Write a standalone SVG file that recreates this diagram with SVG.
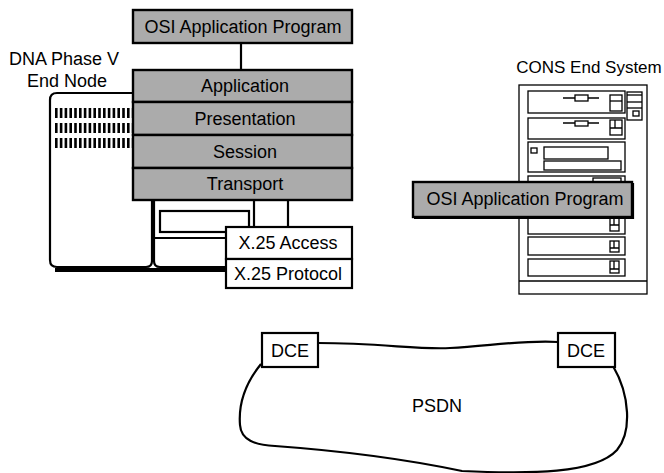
<svg xmlns="http://www.w3.org/2000/svg" width="664" height="473" viewBox="0 0 664 473">
  <style>
    text { font-family: "Liberation Sans", Arial, Helvetica, sans-serif; font-size: 18px; fill: #000; }
    .c { text-anchor: middle; }
    .layer { fill: #ababab; stroke: #000; stroke-width: 2.4; }
    .box { fill: #fff; stroke: #000; stroke-width: 2.2; }
    .line { fill: none; stroke: #000; stroke-width: 2.2; }
    .thin { fill: #fff; stroke: #000; stroke-width: 1.3; }
    .thinline { fill: none; stroke: #000; stroke-width: 1.3; }
    .vent { stroke: #000; stroke-width: 10; stroke-dasharray: 2.6 2.2; }
  </style>

  <!-- DNA Phase V end node: workstation body -->
  <g id="dna-end-node">
    <text class="c" x="64" y="65">DNA Phase V</text>
    <text class="c" x="67" y="87">End Node</text>
    <!-- tower section -->
    <path class="line" d="M140,93 H57 Q50,93 50,100 V260 Q50,267 57,267 H146 Q152,267 152,261 V200" />
    <!-- desktop section under the stack -->
    <path class="line" d="M154,200 V261 Q154,267 160,267 H226" />
    <line x1="55" y1="270" x2="226" y2="270" stroke="#000" stroke-width="4" />
    <!-- vents -->
    <line class="vent" x1="55" y1="113" x2="133" y2="113" />
    <line class="vent" x1="55" y1="128" x2="133" y2="128" />
    <line class="vent" x1="55" y1="143" x2="133" y2="143" />
    <!-- floppy slot and panel line -->
    <rect class="line" x="160" y="211" width="89" height="21" />
    <line class="line" x1="154" y1="238" x2="226" y2="238" />
  </g>

  <!-- OSI protocol stack -->
  <g id="osi-app-top">
    <rect class="layer" x="133" y="10" width="219" height="33" />
    <text class="c" x="243" y="33">OSI Application Program</text>
  </g>
  <g id="stack">
    <rect class="layer" x="133" y="70" width="219" height="32" />
    <rect class="layer" x="133" y="102" width="219" height="33" />
    <rect class="layer" x="133" y="135" width="219" height="33" />
    <rect class="layer" x="133" y="168" width="219" height="32" />
    <text class="c" x="245" y="92">Application</text>
    <text class="c" x="245" y="125">Presentation</text>
    <text class="c" x="245" y="158">Session</text>
    <text class="c" x="245" y="190">Transport</text>
  </g>
  <g id="x25-access">
    <rect class="box" x="226" y="227" width="126" height="32" />
    <text class="c" x="288" y="249">X.25 Access</text>
  </g>
  <g id="x25-protocol">
    <rect class="box" x="226" y="259" width="126" height="29" />
    <text class="c" x="288" y="280">X.25 Protocol</text>
  </g>

  <!-- CONS end system cabinet -->
  <g id="cons-end-system">
    <text class="c" x="589" y="73" style="font-size:17px">CONS End System</text>
    <rect class="thin" x="519" y="85" width="128" height="209" />
    <line class="thinline" x1="519" y1="281" x2="647" y2="281" />
    <!-- drive 1 -->
    <rect class="thin" x="528" y="91" width="97" height="22" />
    <line class="thinline" x1="563" y1="98" x2="599" y2="98" />
    <rect class="thin" x="575" y="95" width="13" height="6" />
    <rect class="thin" x="610" y="95" width="12" height="16" />
    <line class="thinline" x1="610" y1="101" x2="622" y2="101" />
    <!-- control panel -->
    <rect class="thin" x="627" y="92" width="15" height="28" />
    <line class="thinline" x1="627" y1="95" x2="642" y2="95" />
    <line class="thinline" x1="627" y1="102" x2="642" y2="102" />
    <line class="thinline" x1="627" y1="108" x2="642" y2="108" />
    <rect class="thin" x="633" y="111" width="6" height="5" />
    <!-- drive 2 -->
    <rect class="thin" x="528" y="118" width="97" height="21" />
    <line class="thinline" x1="563" y1="123" x2="599" y2="123" />
    <rect class="thin" x="575" y="121" width="13" height="5" />
    <rect class="thin" x="610" y="120" width="12" height="15" />
    <path class="thinline" d="M615,120 V128 M610,128 H622" />
    <!-- drive 3 -->
    <rect class="thin" x="528" y="142" width="97" height="30" />
    <rect class="thin" x="531" y="148" width="6" height="5" />
    <rect class="thin" x="544" y="147" width="64" height="12" />
    <rect class="thin" x="544" y="161" width="77" height="9" />
    <!-- drive 4 -->
    <rect class="thin" x="528" y="176" width="97" height="58" />
    <rect class="thin" x="593" y="178" width="28" height="10" />
    <rect class="thin" x="610" y="217" width="9" height="14" />
    <path class="thinline" d="M614,217 V225 M610,225 H619" />
    <!-- drive 5 -->
    <rect class="thin" x="528" y="237" width="97" height="18" />
    <rect class="thin" x="610" y="241" width="9" height="11" />
    <path class="thinline" d="M614,241 V248 M610,248 H619" />
    <!-- drive 6 -->
    <rect class="thin" x="528" y="259" width="97" height="17" />
    <rect class="thin" x="610" y="261" width="9" height="12" />
    <path class="thinline" d="M614,261 V269 M610,269 H619" />
  </g>
  <g id="osi-app-cons">
    <rect class="layer" x="413" y="182" width="219" height="35" />
    <path class="line" d="M414,218 H633 V183" stroke-width="1.6" />
    <text class="c" x="525" y="205">OSI Application Program</text>
  </g>

  <!-- packet switched data network -->
  <g id="psdn">
    <path class="line" d="M318,343 C380,343 420,350 450,348 C490,346 520,340 558,342" />
    <path class="line" d="M261,364 C248,380 238,400 240,425 C241,440 255,445 275,446 C330,450 400,458 462,471 C530,474 595,474 617,450 C632,432 630,395 613,366" />
    <text class="c" x="437" y="412">PSDN</text>
  </g>
  <g id="dce-left">
    <rect class="box" x="262" y="333" width="56" height="34" />
    <text class="c" x="290" y="357">DCE</text>
  </g>
  <g id="dce-right">
    <rect class="box" x="558" y="333" width="57" height="34" />
    <text class="c" x="586" y="357">DCE</text>
  </g>

  <!-- connectors -->
  <g id="connectors">
    <line class="line" x1="241" y1="43" x2="241" y2="70" />
    <line class="line" x1="254" y1="200" x2="254" y2="227" />
    <line class="line" x1="288" y1="200" x2="288" y2="227" />
  </g>
</svg>
